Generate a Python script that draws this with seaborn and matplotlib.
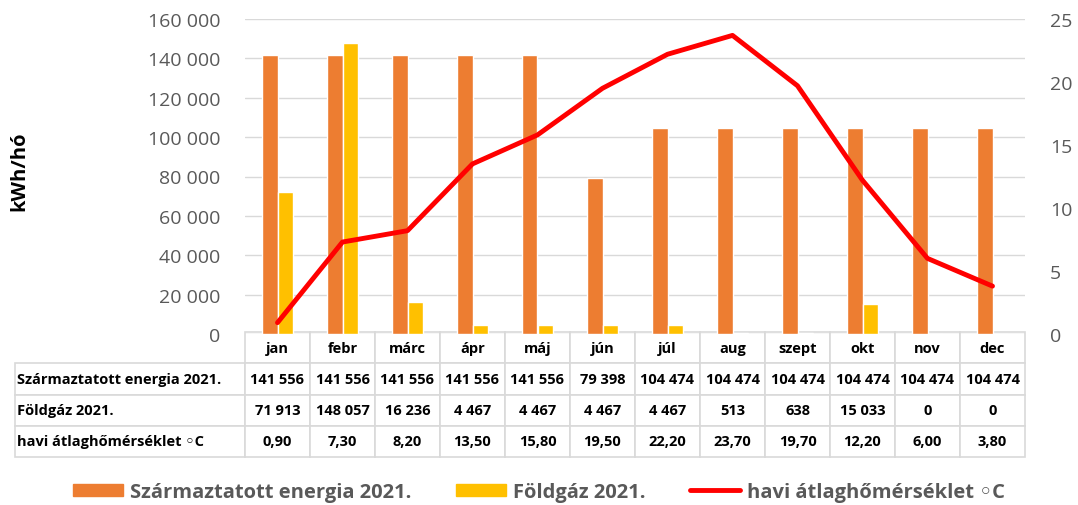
import numpy as np
import pandas as pd
import matplotlib
matplotlib.use("Agg")
import matplotlib.pyplot as plt
import seaborn as sns
from matplotlib.patches import Patch
from matplotlib.lines import Line2D
from matplotlib.ticker import FuncFormatter

months = ["jan", "febr", "márc", "ápr", "máj", "jún", "júl", "aug", "szept", "okt", "nov", "dec"]
energia = [141556, 141556, 141556, 141556, 141556, 79398, 104474, 104474, 104474, 104474, 104474, 104474]
foldgaz = [71913, 148057, 16236, 4467, 4467, 4467, 4467, 513, 638, 15033, 0, 0]
homerseklet = [0.90, 7.30, 8.20, 13.50, 15.80, 19.50, 22.20, 23.70, 19.70, 12.20, 6.00, 3.80]

s_energia = "Származtatott energia 2021."
s_gaz = "Földgáz 2021."
s_temp = "havi átlaghőmérséklet ◦C"

c_orange = "#ED7D31"
c_yellow = "#FFC000"
c_red = "#FF0000"
grey = "#595959"

sns.set_theme(style="white")
plt.rcParams["font.family"] = ["Open Sans", "DejaVu Sans"]

df = pd.DataFrame({
    "month": months * 2,
    "value": energia + foldgaz,
    "series": [s_energia] * 12 + [s_gaz] * 12,
})

fig = plt.figure(figsize=(10.78, 5.06), dpi=100)
ax = fig.add_axes([245 / 1078, 1 - 335 / 506, 780 / 1078, 315 / 506])

sns.barplot(data=df, x="month", y="value", hue="series", order=months,
            palette=[c_orange, c_yellow], width=0.47, saturation=1,
            legend=False, ax=ax)
ax.set_ylim(0, 160000)
ax.set_yticks(np.arange(0, 160001, 20000))
ax.yaxis.set_major_formatter(FuncFormatter(lambda v, p: f"{int(v):,}".replace(",", " ")))
ax.set_xlim(-0.5, 11.5)
ax.set_xticks([])
ax.set_xlabel("")
ax.set_ylabel("kWh/hó", fontsize=14.5, fontweight="bold", color="black")
ax.yaxis.set_label_coords((29 - 245) / 780, 0.52)
ax.yaxis.grid(True, color="#d9d9d9", lw=1)
ax.set_axisbelow(True)
for sp in ax.spines.values():
    sp.set_visible(False)
ax.tick_params(axis="y", length=0, labelsize=14, labelcolor=grey, pad=18)

ax2 = ax.twinx()
sns.lineplot(x=np.arange(len(months)), y=homerseklet, color=c_red, lw=3.5, ax=ax2)
ax2.set_ylim(0, 25)
ax2.set_yticks(np.arange(0, 26, 5))
for sp in ax2.spines.values():
    sp.set_visible(False)
ax2.tick_params(axis="y", length=0, labelsize=14, labelcolor=grey, pad=18)
ax2.set_xlim(-0.5, 11.5)

# data table under the chart: label column + 12 month columns
fmt = lambda v: f"{v:,}".replace(",", " ")
rows = [
    [""] + months,
    [s_energia] + [fmt(v) for v in energia],
    [s_gaz] + [fmt(v) for v in foldgaz],
    [s_temp] + [f"{v:.2f}".replace(".", ",") for v in homerseklet],
]
lab_w = 230 / 780
tbl = ax.table(cellText=rows, colWidths=[lab_w] + [1 / 12] * 12, cellLoc="center",
               bbox=[-lab_w, (335 - 458) / 315, 1 + lab_w, 125 / 315])
tbl.auto_set_font_size(False)
for (r, c), cell in tbl.get_celld().items():
    cell.set_edgecolor("#d9d9d9")
    cell.set_linewidth(1.2)
    txt = cell.get_text()
    txt.set_fontsize(10.5)
    txt.set_fontweight("bold")
    txt.set_color("black")
    if c == 0:
        cell.PAD = 0.01
        txt.set_horizontalalignment("left")
        cell._loc = "left"
        if r == 0:
            cell.set_visible(False)

handles = [Patch(color=c_orange), Patch(color=c_yellow), Line2D([], [], color=c_red, lw=3.5)]
leg = fig.legend(handles, [s_energia, s_gaz, s_temp], loc="center", ncol=3,
                 bbox_to_anchor=(0.5, 1 - 493 / 506), frameon=False,
                 prop={"size": 14.5, "weight": "bold"}, handlelength=2.5,
                 handleheight=0.6, columnspacing=2.2, handletextpad=0.35)
for t in leg.get_texts():
    t.set_color(grey)

fig.savefig("out.png", dpi=100)
